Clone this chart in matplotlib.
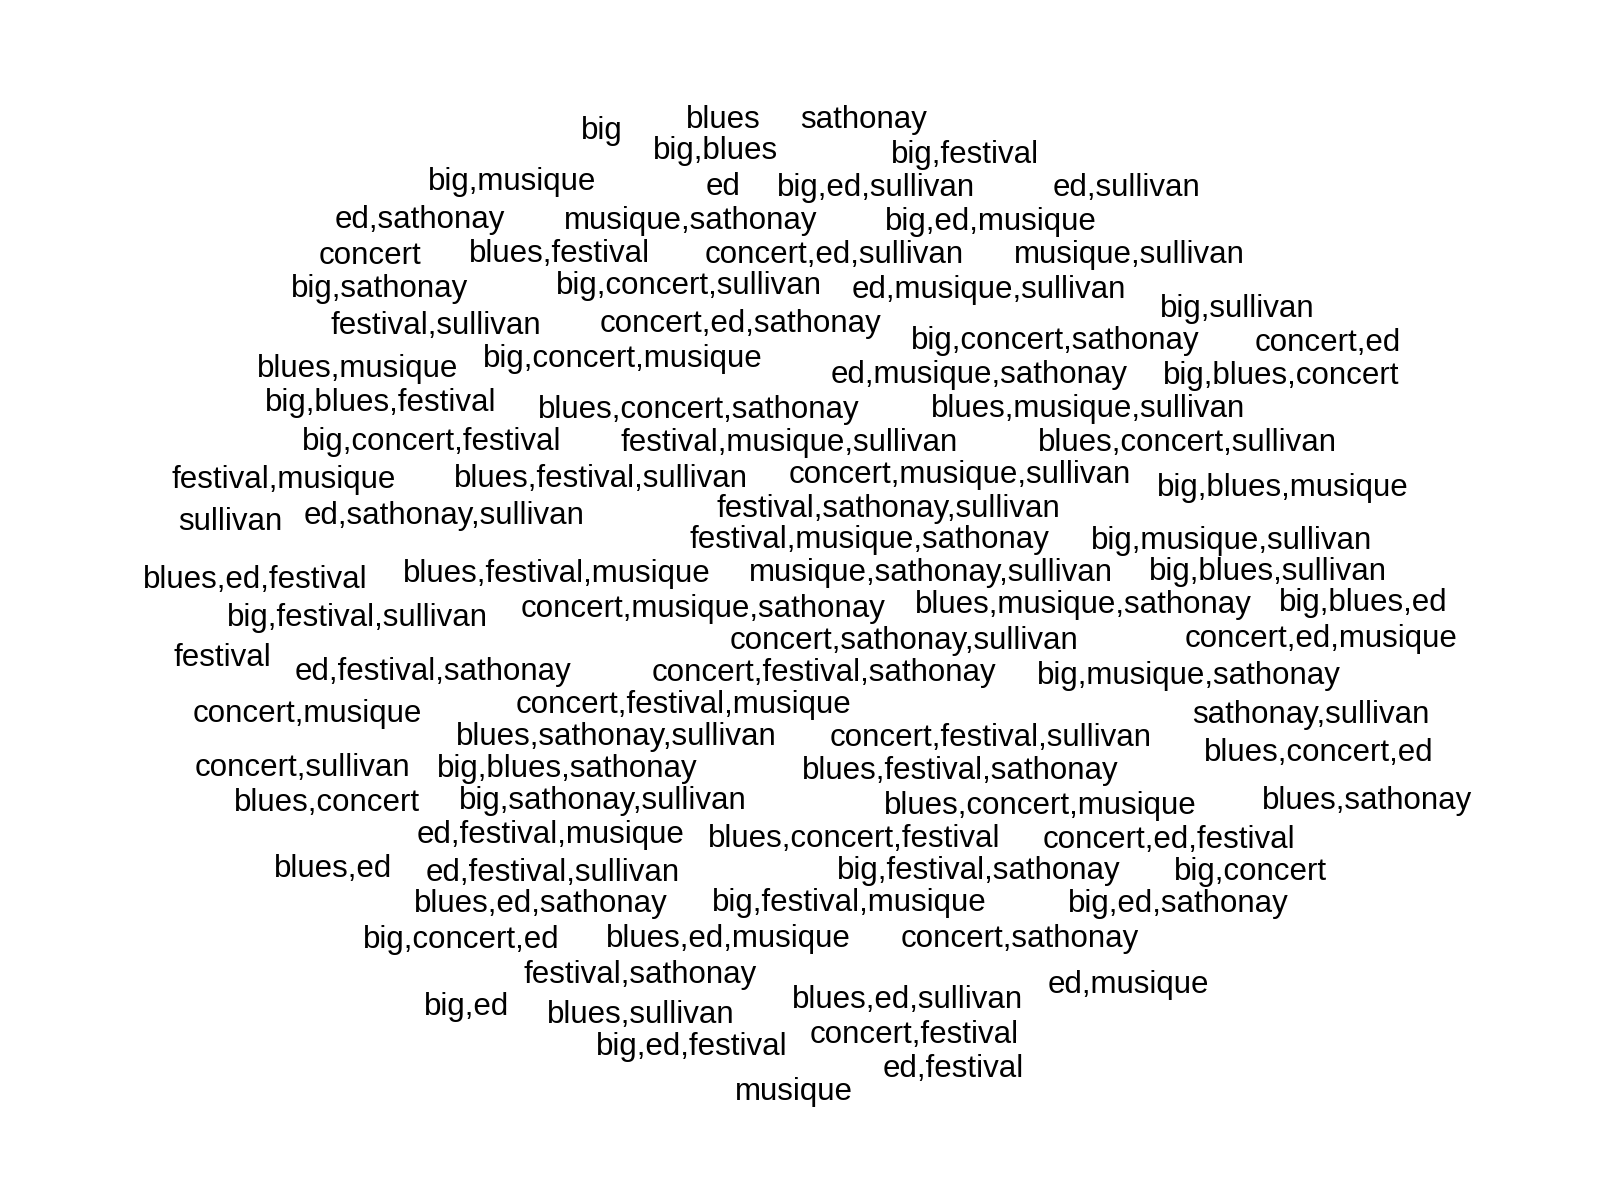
import matplotlib
matplotlib.use("Agg")
import matplotlib.pyplot as plt

labels = ["big", "blues", "sathonay", "big,blues", "big,festival", "big,musique", "ed",
          "big,ed,sullivan", "ed,sullivan", "ed,sathonay", "musique,sathonay", "big,ed,musique",
          "concert", "blues,festival", "concert,ed,sullivan", "musique,sullivan", "big,sathonay",
          "big,concert,sullivan", "ed,musique,sullivan", "big,sullivan", "festival,sullivan",
          "concert,ed,sathonay", "big,concert,sathonay", "concert,ed", "blues,musique",
          "big,concert,musique", "ed,musique,sathonay", "big,blues,concert", "big,blues,festival",
          "blues,concert,sathonay", "blues,musique,sullivan", "big,concert,festival",
          "festival,musique,sullivan", "blues,concert,sullivan", "festival,musique",
          "blues,festival,sullivan", "concert,musique,sullivan", "big,blues,musique", "sullivan",
          "ed,sathonay,sullivan", "festival,sathonay,sullivan", "festival,musique,sathonay",
          "big,musique,sullivan", "blues,ed,festival", "blues,festival,musique",
          "musique,sathonay,sullivan", "big,blues,sullivan", "big,festival,sullivan",
          "concert,musique,sathonay", "blues,musique,sathonay", "big,blues,ed",
          "concert,sathonay,sullivan", "concert,ed,musique", "festival", "ed,festival,sathonay",
          "concert,festival,sathonay", "big,musique,sathonay", "concert,musique",
          "concert,festival,musique", "sathonay,sullivan", "blues,sathonay,sullivan",
          "concert,festival,sullivan", "blues,concert,ed", "concert,sullivan", "big,blues,sathonay",
          "blues,festival,sathonay", "blues,concert", "big,sathonay,sullivan",
          "blues,concert,musique", "blues,sathonay", "ed,festival,musique", "blues,concert,festival",
          "concert,ed,festival", "blues,ed", "ed,festival,sullivan", "big,festival,sathonay",
          "big,concert", "blues,ed,sathonay", "big,festival,musique", "big,ed,sathonay",
          "big,concert,ed", "blues,ed,musique", "concert,sathonay", "festival,sathonay",
          "ed,musique", "big,ed", "blues,sullivan", "blues,ed,sullivan", "concert,festival",
          "big,ed,festival", "ed,festival", "musique"]

x = [584, 702, 838, 694, 936, 497, 701, 850, 1093, 407, 670, 961, 359, 543, 809, 1096, 368,
     668, 959, 1200, 423, 718, 1024, 1288, 347, 604, 950, 1243, 369, 678, 1055, 419, 765, 1152,
     275, 583, 931, 1244, 223, 431, 862, 843, 1195, 248, 540, 903, 1230, 347, 682, 1051, 1322,
     877, 1281, 216, 420, 799, 1153, 298, 663, 1272, 598, 961, 1279, 293, 550, 931, 317, 585,
     1009, 1326, 534, 829, 1134, 323, 536, 949, 1213, 525, 824, 1143, 447, 707, 989, 621, 1095,
     453, 622, 880, 887, 671, 925, 770]

y = [127, 116, 116, 146, 150, 177, 181, 182, 182, 213, 214, 215, 248, 246, 247, 247, 280, 277,
     281, 300, 316, 314, 331, 333, 358, 348, 364, 365, 391, 398, 397, 429, 430, 430, 466, 465,
     461, 473, 506, 501, 494, 524, 525, 563, 557, 556, 555, 599, 591, 587, 585, 622, 620, 638,
     652, 653, 656, 693, 684, 694, 715, 716, 730, 745, 746, 748, 779, 777, 782, 777, 810, 814,
     815, 843, 847, 845, 846, 877, 876, 877, 912, 911, 911, 946, 955, 977, 985, 970, 1004, 1016,
     1037, 1059]

fig = plt.figure(figsize=(16, 12), dpi=100)
ax = fig.add_axes([0, 0, 1, 1])
ax.set_xlim(0, 1552)
ax.set_ylim(1164, 0)
ax.axis("off")

for lab, xi, yi in zip(labels, x, y):
    ax.text(xi, yi, lab, ha="center", va="center", fontsize=22.5,
            family="Liberation Sans", color="black")

fig.savefig("out.png", dpi=100, facecolor="white")
